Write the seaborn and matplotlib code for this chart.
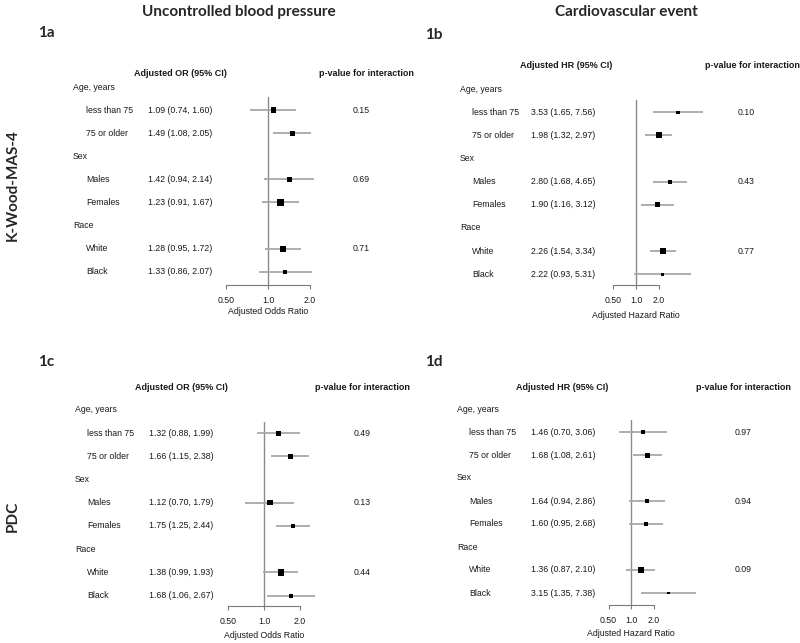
import numpy as np
import pandas as pd
import matplotlib
matplotlib.use("Agg")
import matplotlib.pyplot as plt
import matplotlib.transforms as mtransforms
import seaborn as sns

# ---------------- data ----------------
groups = ["Age, years", "Sex", "Race"]
subgroups = ["less than 75", "75 or older", "Males", "Females", "White", "Black"]

a_est = [1.09, 1.49, 1.42, 1.23, 1.28, 1.33]
a_lo = [0.74, 1.08, 0.94, 0.91, 0.95, 0.86]
a_hi = [1.60, 2.05, 2.14, 1.67, 1.72, 2.07]
a_p = ["0.15", "0.69", "0.71"]

b_est = [3.53, 1.98, 2.80, 1.90, 2.26, 2.22]
b_lo = [1.65, 1.32, 1.68, 1.16, 1.54, 0.93]
b_hi = [7.56, 2.97, 4.65, 3.12, 3.34, 5.31]
b_p = ["0.10", "0.43", "0.77"]

c_est = [1.32, 1.66, 1.12, 1.75, 1.38, 1.68]
c_lo = [0.88, 1.15, 0.70, 1.25, 0.99, 1.06]
c_hi = [1.99, 2.38, 1.79, 2.44, 1.93, 2.67]
c_p = ["0.49", "0.13", "0.44"]

d_est = [1.46, 1.68, 1.64, 1.60, 1.36, 3.15]
d_lo = [0.70, 1.08, 0.94, 0.95, 0.87, 1.35]
d_hi = [3.06, 2.61, 2.86, 2.68, 2.10, 7.38]
d_p = ["0.97", "0.94", "0.09"]

# relative box sizes (study weight), in pixels of side
a_box = [5.3, 4.7, 4.7, 6.3, 6.0, 4.3]
b_box = [3.3, 6.0, 4.0, 5.3, 6.0, 3.3]
c_box = [5.3, 4.7, 5.3, 4.7, 6.3, 4.0]
d_box = [4.0, 5.0, 4.3, 4.3, 6.0, 2.7]

tick_vals = [0.5, 1.0, 2.0]
tick_labels = ["0.50", "1.0", "2.0"]

# ---------------- figure ----------------
W, H = 800, 643
sns.set_style("white")
plt.rcParams["font.family"] = ["Liberation Sans", "DejaVu Sans"]
fig = plt.figure(figsize=(W / 100, H / 100), dpi=100)

def fx(x):
    return x / W

def fy(y):
    return 1 - y / H

TITLE_FONT = dict(family=["Lato", "DejaVu Sans"], fontweight="bold")
BODY = 6.3
HDR = 6.5
TXT = "#1a1a1a"
GRAY_CI = "#a8a8a8"
GRAY_REF = "#8a8a8a"
GRAY_AX = "#7a7a7a"

panels = [
    dict(tag="1a", est=a_est, lo=a_lo, hi=a_hi, p=a_p, box=a_box,
         hdr="Adjusted OR (95% CI)", xlab="Adjusted Odds Ratio",
         y0=87, dy=23.1, cx=268, k=42, top=97, axy=285, xlim=(0.4, 2.6),
         gx=73, sx=86, vx=148, px=353, hy=74, hx=180, phx=366,
         tagx=38, tagy=33, xly=312),
    dict(tag="1b", est=b_est, lo=b_lo, hi=b_hi, p=b_p, box=b_box,
         hdr="Adjusted HR (95% CI)", xlab="Adjusted Hazard Ratio",
         y0=89, dy=23.16, cx=636, k=23, top=100, axy=285, xlim=(0.35, 8.5),
         gx=460, sx=472, vx=531, px=738, hy=66, hx=566, phx=752,
         tagx=425, tagy=35, xly=315),
    dict(tag="1c", est=c_est, lo=c_lo, hi=c_hi, p=c_p, box=c_box,
         hdr="Adjusted OR (95% CI)", xlab="Adjusted Odds Ratio",
         y0=410, dy=23.2, cx=264, k=36, top=422, axy=606, xlim=(0.4, 2.9),
         gx=75, sx=87, vx=149, px=354, hy=387, hx=181, phx=362,
         tagx=38, tagy=362, xly=635),
    dict(tag="1d", est=d_est, lo=d_lo, hi=d_hi, p=d_p, box=d_box,
         hdr="Adjusted HR (95% CI)", xlab="Adjusted Hazard Ratio",
         y0=409, dy=23.0, cx=631, k=22.5, top=420, axy=605, xlim=(0.35, 8.5),
         gx=457, sx=469, vx=531, px=735, hy=387, hx=562, phx=743,
         tagx=425, tagy=362, xly=634),
]

for P in panels:
    xlo, xhi = P["xlim"]
    left = P["cx"] + P["k"] * np.log2(xlo)
    right = P["cx"] + P["k"] * np.log2(xhi)
    top, bot = P["top"], P["axy"]
    ax = fig.add_axes([fx(left), fy(bot), (right - left) / W, (bot - top) / H])
    ax.set_facecolor("none")
    row_top = (top - P["y0"]) / P["dy"]
    row_bot = (bot - P["y0"]) / P["dy"]

    sub_rows = [3 * (j // 2) + 1 + (j % 2) for j in range(len(subgroups))]
    df = pd.DataFrame({"sub": subgroups, "est": P["est"], "lo": P["lo"],
                       "hi": P["hi"], "row": sub_rows})

    ax.axvline(1.0, color=GRAY_REF, lw=1.0, zorder=1)
    ax.hlines(df["row"], df["lo"], df["hi"], color=GRAY_CI, lw=1.3, zorder=2)
    s = [(b * 0.72) ** 2 for b in P["box"]]
    sns.scatterplot(data=df, x="est", y="row", marker="s", color="black",
                    s=s, linewidth=0, ax=ax, zorder=3, legend=False)

    ax.set_xscale("log", base=2)
    ax.set_xlim(xlo, xhi)
    ax.set_ylim(row_bot, row_top)
    ax.set_xticks(tick_vals)
    ax.set_xticklabels(tick_labels, fontsize=BODY)
    ax.xaxis.set_minor_locator(matplotlib.ticker.NullLocator())
    ax.tick_params(axis="x", direction="out", length=3, width=0.8,
                   color=GRAY_AX, pad=5.0, labelcolor=TXT, bottom=True)
    ax.set_yticks([])
    ax.set_xlabel("")
    ax.set_ylabel("")
    for side in ["top", "right", "left"]:
        ax.spines[side].set_visible(False)
    ax.spines["bottom"].set_bounds(0.5, 2.0)
    ax.spines["bottom"].set_color(GRAY_AX)
    ax.spines["bottom"].set_linewidth(0.8)

    tr = mtransforms.blended_transform_factory(fig.transFigure, ax.transData)
    for g, name in enumerate(groups):
        ax.text(fx(P["gx"]), 3 * g, name, transform=tr, fontsize=BODY,
                va="center", ha="left", clip_on=False, color=TXT)
        ax.text(fx(P["px"]), 3 * g + 1, P["p"][g], transform=tr, fontsize=BODY,
                va="center", ha="left", clip_on=False, color=TXT)
    for j, name in enumerate(subgroups):
        r = sub_rows[j]
        ax.text(fx(P["sx"]), r, name, transform=tr, fontsize=BODY,
                va="center", ha="left", clip_on=False, color=TXT)
        txt = f"{P['est'][j]:.2f} ({P['lo'][j]:.2f}, {P['hi'][j]:.2f})"
        ax.text(fx(P["vx"]), r, txt, transform=tr, fontsize=BODY,
                va="center", ha="left", clip_on=False, color=TXT)

    fig.text(fx(P["hx"]), fy(P["hy"]), P["hdr"], fontsize=HDR,
             fontweight="bold", ha="center", va="center", color=TXT)
    fig.text(fx(P["phx"]), fy(P["hy"]), "p-value for interaction",
             fontsize=HDR, fontweight="bold", ha="center", va="center",
             color=TXT)
    fig.text(fx(P["cx"]), fy(P["xly"]), P["xlab"], fontsize=BODY,
             ha="center", va="center", color=TXT)
    fig.text(fx(P["tagx"]), fy(P["tagy"]), P["tag"], fontsize=11,
             ha="left", va="center", **TITLE_FONT)

fig.text(fx(239), fy(12), "Uncontrolled blood pressure", fontsize=11,
         ha="center", va="center", **TITLE_FONT)
fig.text(fx(626), fy(12), "Cardiovascular event", fontsize=11,
         ha="center", va="center", **TITLE_FONT)
fig.text(fx(13), fy(185), "K-Wood-MAS-4", fontsize=11, rotation=90,
         ha="center", va="center", **TITLE_FONT)
fig.text(fx(13), fy(516), "PDC", fontsize=11, rotation=90,
         ha="center", va="center", **TITLE_FONT)

fig.savefig("out.png", dpi=100, facecolor="white")
